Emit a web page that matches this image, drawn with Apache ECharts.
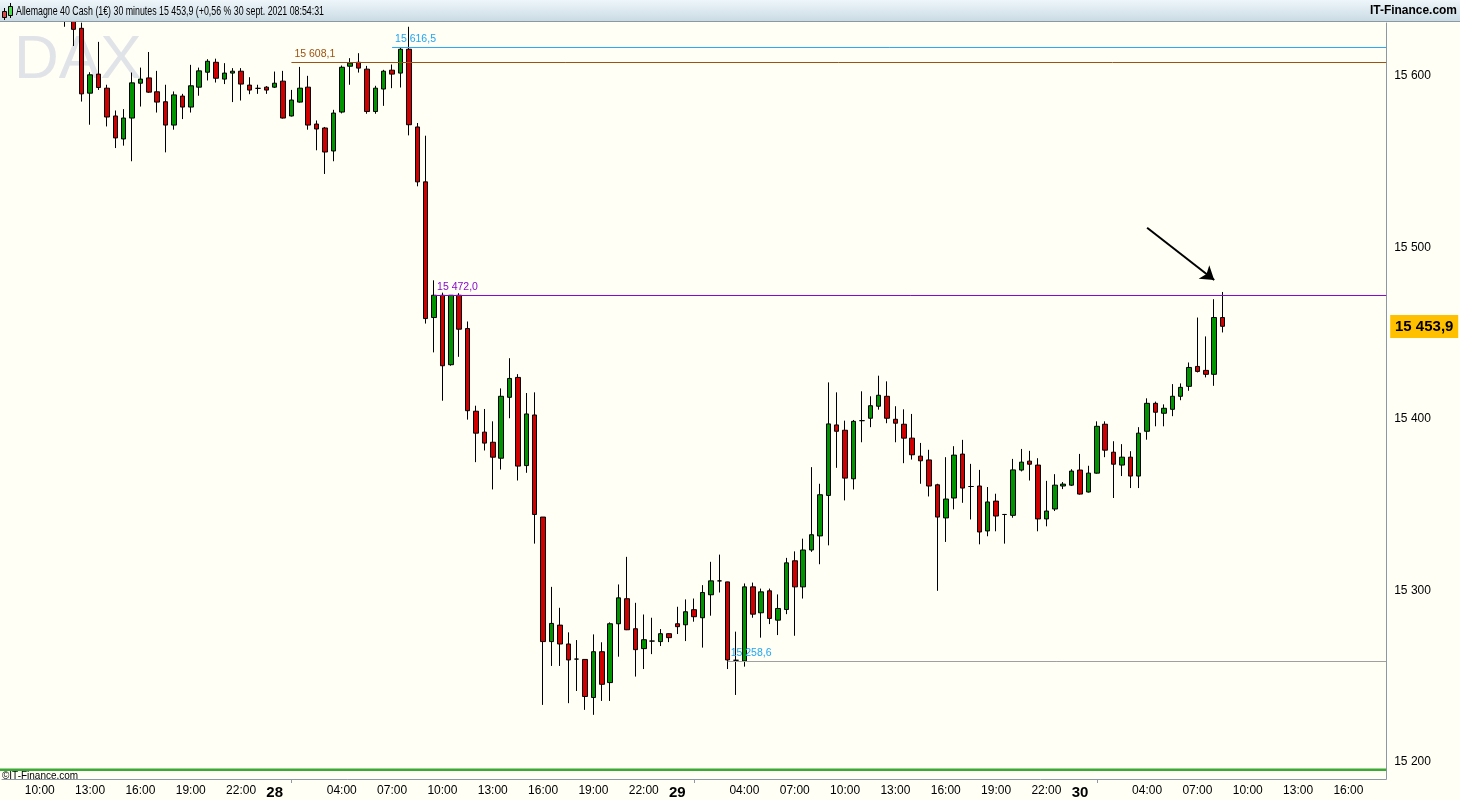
<!DOCTYPE html>
<html><head><meta charset="utf-8">
<script src="https://cdn.jsdelivr.net/npm/echarts@6/dist/echarts.min.js"></script>
<style>html,body{margin:0;padding:0;background:#FFFFF5;overflow:hidden}#c{width:1460px;height:800px}</style>
</head><body><div id="c"></div><script>
// ---- categories (30-minute slots) ----
const categories = [
'27 08:00','27 08:30','27 09:00','27 09:30','27 10:00','27 10:30','27 11:00','27 11:30','27 12:00','27 12:30','27 13:00','27 13:30','27 14:00','27 14:30','27 15:00','27 15:30','27 16:00','27 16:30','27 17:00','27 17:30','27 18:00','27 18:30','27 19:00','27 19:30','27 20:00','27 20:30','27 21:00','27 21:30','27 22:00','27 22:30','27 23:00','27 23:30',
'28 00:00','28 00:30','28 01:00','28 01:30','28 02:00','28 02:30','28 03:00','28 03:30','28 04:00','28 04:30','28 05:00','28 05:30','28 06:00','28 06:30','28 07:00','28 07:30','28 08:00','28 08:30','28 09:00','28 09:30','28 10:00','28 10:30','28 11:00','28 11:30','28 12:00','28 12:30','28 13:00','28 13:30','28 14:00','28 14:30','28 15:00','28 15:30','28 16:00','28 16:30','28 17:00','28 17:30','28 18:00','28 18:30','28 19:00','28 19:30','28 20:00','28 20:30','28 21:00','28 21:30','28 22:00','28 22:30','28 23:00','28 23:30',
'29 00:00','29 00:30','29 01:00','29 01:30','29 02:00','29 02:30','29 03:00','29 03:30','29 04:00','29 04:30','29 05:00','29 05:30','29 06:00','29 06:30','29 07:00','29 07:30','29 08:00','29 08:30','29 09:00','29 09:30','29 10:00','29 10:30','29 11:00','29 11:30','29 12:00','29 12:30','29 13:00','29 13:30','29 14:00','29 14:30','29 15:00','29 15:30','29 16:00','29 16:30','29 17:00','29 17:30','29 18:00','29 18:30','29 19:00','29 19:30','29 20:00','29 20:30','29 21:00','29 21:30','29 22:00','29 22:30','29 23:00','29 23:30',
'30 00:00','30 00:30','30 01:00','30 01:30','30 02:00','30 02:30','30 03:00','30 03:30','30 04:00','30 04:30','30 05:00','30 05:30','30 06:00','30 06:30','30 07:00','30 07:30','30 08:00','30 08:30','30 09:00','30 09:30','30 10:00','30 10:30','30 11:00','30 11:30','30 12:00','30 12:30','30 13:00','30 13:30','30 14:00','30 14:30','30 15:00','30 15:30','30 16:00','30 16:30','30 17:00','30 17:30','30 18:00'
];
const firstCandle = '27 11:30';

// ---- OHLC values (one per 30-min candle from firstCandle) ----
const opens = [
15640,15634,15627.6,15589.8,15600.9,15592.7,15576.5,15563.1,15575.3,15595.6,15598.7,15590.6,15584.8,15571.2,15588.1,15581.7,15593.3,15602.0,15607.8,15598.0,15601.5,15602.6,15594.5,15592.6,15593.3,
15593.3,15596.8,15576.5,15584.6,15593.3,15571.8,15569.5,15556.1,15578.8,15605.5,15607.8,15603.8,15579.1,15592.2,15603.2,15601.5,15615.4,15570.1,15538.1,15459.0,15472.0,15431.5,15472.0,15452.6,15404.4,15392.2,15386.3,15377.0,15412.5,15424.1,15372.7,15402.2,15342.7,15270.1,15279.7,15268.7,15259.9,15259.7,15237.5,15264.2,15246.2,15280.5,15295.1,15277.6,15266.0,15270.4,15270.1,15274.7,
15280.5,15279.9,15288.7,15284.0,15297.4,15305.5,15304.9,15259.2,15258.8,15302.0,15286.9,15299.7,15282.6,15288.8,15317.2,15302.0,15323.5,15331.7,15355.3,15396.4,15393.3,15365.0,15398.9,15400.3,15407.3,15413.1,15399.7,15396.8,15388.7,15378.2,15376.0,15361.5,15342.2,15353.8,15379.4,15360.5,15360.8,15334.6,15352.0,15344.2,15343.7,15370.1,15375.3,15373.0,15341.6,15347.4,15360.8,15361.3,
15370.1,15357.3,15368.3,15396.8,15380.5,15373.0,15377.6,15366.6,15392.7,15409.0,15403.2,15405.5,15413.1,15418.9,15430.5,15428.2,15425.9,15459.0
];
const closes = [
15634,15627.0,15589.4,15600.5,15593.1,15575.9,15563.7,15575.3,15595.8,15598.0,15590.4,15584.6,15571.2,15588.8,15581.7,15594.1,15602.8,15608.4,15598.5,15601.5,15602.6,15595.1,15591.6,15592.6,15591.6,
15595.6,15575.3,15585.8,15592.7,15571.2,15568.9,15555.5,15578.2,15604.9,15607.3,15604.4,15579.1,15592.7,15602.6,15600.9,15615.4,15571.4,15538.1,15458.4,15472.0,15430.9,15472.0,15452.2,15404.7,15391.6,15385.8,15377.6,15413.1,15423.5,15372.4,15402.8,15344.2,15270.1,15280.7,15268.7,15259.4,15259.9,15238.1,15264.2,15245.2,15280.5,15295.6,15277.0,15265.4,15271.2,15270.4,15274.7,15272.4,
15278.8,15287.5,15284.6,15298.7,15305.5,15305.5,15259.4,15259.2,15302.0,15286.1,15299.1,15283.6,15289.4,15316.0,15302.0,15323.5,15332.4,15355.7,15397.0,15392.7,15365.4,15398.5,15398.9,15407.6,15413.7,15400.3,15397.4,15388.7,15379.0,15375.5,15360.8,15342.7,15353.2,15378.8,15359.6,15360.5,15334.0,15351.5,15343.3,15344.2,15370.2,15374.7,15373.5,15341.6,15346.2,15361.3,15361.9,15369.5,
15356.1,15368.3,15395.6,15381.7,15373.5,15377.6,15366.6,15391.6,15409.0,15403.8,15406.1,15413.1,15418.3,15429.9,15427.6,15425.9,15459.0,15453.9
];
const lows = [
15628.5,15617.3,15584.9,15571.4,15591.7,15570.4,15557.8,15559.2,15550.1,15582.0,15590.0,15578.5,15555.3,15568.5,15574.7,15578.5,15588.3,15597.2,15596.0,15595.1,15584.6,15585.5,15589.2,15589.4,15589.4,
15592.8,15575.0,15576.2,15584.3,15568.5,15556.5,15542.7,15550.1,15578.0,15594.7,15601.8,15577.8,15577.8,15582.4,15592.7,15593.1,15565.2,15535.5,15455.5,15438.7,15410.5,15430.9,15436.1,15399.5,15374.7,15381.5,15358.8,15370.4,15400.3,15364.0,15368.5,15327.2,15233.2,15255.9,15255.9,15234.2,15241.3,15230.3,15227.4,15235.5,15235.5,15261.3,15276.8,15249.7,15254.1,15262.8,15267.5,15269.8,
15274.5,15270.4,15281.7,15266.6,15285.2,15298.7,15254.1,15239.0,15255.5,15284.0,15272.4,15280.3,15273.9,15286.1,15273.5,15295.2,15322.4,15315.2,15326.2,15371.4,15352.4,15358.8,15386.3,15395.1,15405.3,15397.4,15386.3,15374.1,15376.2,15362.1,15354.7,15299.7,15328.2,15347.2,15351.0,15341.3,15326.8,15331.5,15334.4,15327.2,15342.3,15369.3,15364.0,15334.4,15337.3,15346.2,15359.0,15360.8,
15355.8,15357.0,15368.0,15377.6,15353.8,15366.6,15359.6,15359.6,15387.8,15395.6,15395.6,15401.5,15410.8,15416.3,15427.0,15424.1,15419.2,15450.3
];
const highs = [
15646,15638,15630.9,15602.0,15619.7,15594.7,15579.7,15580.5,15601.8,15604.7,15613.8,15602.8,15594.7,15590.8,15589.4,15606.3,15604.7,15609.6,15609.9,15607.3,15604.4,15604.4,15599.1,15594.7,15593.9,
15602.4,15602.8,15591.7,15605.1,15599.9,15573.9,15570.1,15580.1,15605.9,15610.2,15613.1,15605.7,15594.1,15603.4,15606.5,15616.5,15628.5,15572.4,15565.0,15480.7,15473.5,15472.0,15473.2,15456.7,15407.6,15405.7,15398.5,15417.7,15435.3,15426.0,15415.0,15415.4,15342.7,15302.0,15289.8,15275.5,15271.0,15259.7,15274.3,15269.7,15281.3,15303.4,15319.5,15292.7,15285.9,15284.0,15277.4,15274.9,
15290.4,15294.7,15295.2,15303.0,15316.6,15320.8,15305.0,15275.9,15304.0,15304.5,15301.0,15301.0,15297.6,15318.9,15322.7,15330.1,15371.8,15362.1,15421.2,15415.4,15398.9,15399.3,15416.0,15413.1,15425.1,15421.8,15407.3,15405.5,15402.8,15385.9,15381.9,15362.1,15377.6,15384.0,15387.7,15373.7,15370.2,15360.2,15356.3,15344.5,15376.6,15382.4,15381.3,15377.0,15363.8,15367.7,15363.1,15370.6,
15379.5,15372.6,15398.5,15398.5,15386.9,15385.2,15381.1,15395.1,15411.9,15410.0,15408.4,15420.2,15420.6,15432.8,15459.0,15448.0,15469.7,15473.9
];

// ---- horizontal levels ----
const levelValues = [15616.5, 15608.1, 15472.0, 15258.6];
const levelStarts = ['28 07:00', '28 01:00', '28 09:30', '29 03:00'];
// ---- arrow annotation ----
const arrowFrom = ['30 04:00', 15511.3];
const arrowTo = ['30 08:00', 15480.9];
// ---- y-axis range / ticks ----
const yMin = 15190, yMax = 15630.7, yStep = 100;
const titleText = 'Allemagne 40 Cash (1€) 30 minutes 15 453,9 (+0,56 % 30 sept. 2021 08:54:31';
const brandText = 'IT-Finance.com';
const watermarkText = 'DAX';
const copyrightText = '©IT-Finance.com';

// ---- styles ----
const levelColors = ['#1EA6F5', '#9C5210', '#8A08D2', '#1EA6F5'];
const levelLineColors = ['#28AAF8', '#9C5210', '#8A08D2', '#A0A0A0'];
const UP = '#009400', DOWN = '#D00000';
const GRID_L = 2, GRID_T = 23, GRID_W = 1384.2, GRID_B_Y = 781;
const FONT = '"Liberation Sans", Arial, sans-serif';

function fmt(v, d) {
  const s = v.toFixed(d).split('.');
  const i = s[0].replace(/\B(?=(\d{3})+(?!\d))/g, ' ');
  return s.length > 1 ? i + ',' + s[1] : i;
}
const mctx = document.createElement('canvas').getContext('2d');
function textW(t, font) { mctx.font = font; return mctx.measureText(t).width; }

const off = categories.indexOf(firstCandle);
const ohlc = opens.map((o, i) => [categories[off + i], o, closes[i], lows[i], highs[i]]);
const lastClose = closes[closes.length - 1];
const plotRight = GRID_L + GRID_W;

const chart = echarts.init(document.getElementById('c'), null, { renderer: 'canvas' });

function showLabel(idx, val) {
  const t = val.split(' ')[1];
  const h = parseInt(t.slice(0, 2), 10), m = t.slice(3);
  if (m !== '00') return false;
  return h === 0 || (h % 3 === 1 && h !== 1);
}
function showTick(idx, val) { return val.split(' ')[1] === '01:00'; }

const arrowSeries = {
  type: 'line', name: 'arrow', data: [], color: '#000', silent: true,
  markLine: {
    silent: true, animation: false, symbol: ['none', 'arrow'], symbolSize: 13,
    lineStyle: { color: '#000', width: 2, type: 'solid', opacity: 1 },
    label: { show: false },
    data: [[{ coord: arrowFrom }, { coord: arrowTo }]]
  }
};

const titleFont = '13.5px ' + FONT;
const titleScale = 308 / textW(titleText, titleFont);
const brandFont = 'bold 13px ' + FONT;
const brandScale = 0.92;
const brandLeft = 1457 - textW(brandText, brandFont) * brandScale;

const baseGraphic = [
  { id: 'bar', type: 'rect', left: 0, top: 0, shape: { width: 1460, height: 22 }, z: 10,
    style: { fill: new echarts.graphic.LinearGradient(0, 0, 0, 1, [{ offset: 0, color: '#EEF6FA' }, { offset: 1, color: '#C9DAE3' }]) } },
  { id: 'barLine', type: 'rect', left: 0, top: 21, shape: { width: 1460, height: 1 }, z: 11, style: { fill: '#8C99A3' } },
  { id: 'i1', type: 'line', shape: { x1: 4.5, y1: 8, x2: 4.5, y2: 20 }, z: 11, style: { stroke: '#000', lineWidth: 1 } },
  { id: 'i2', type: 'rect', shape: { x: 2.5, y: 11.5, width: 4, height: 6 }, z: 12, style: { fill: '#E04848', stroke: '#000', lineWidth: 1 } },
  { id: 'i3', type: 'line', shape: { x1: 10.5, y1: 3, x2: 10.5, y2: 18 }, z: 11, style: { stroke: '#000', lineWidth: 1 } },
  { id: 'i4', type: 'rect', shape: { x: 8.5, y: 6.5, width: 4, height: 9 }, z: 12, style: { fill: '#48E048', stroke: '#000', lineWidth: 1 } },
  { id: 'title', type: 'text', x: 16, y: 4.5, z: 12, scaleX: titleScale,
    style: { text: titleText, fill: '#000', font: titleFont } },
  { id: 'brand', type: 'text', x: brandLeft, y: 4, z: 12, scaleX: brandScale,
    style: { text: brandText, fill: '#000', font: brandFont } },
  { id: 'wm', type: 'text', left: 14, top: 30, z: 0, silent: true,
    style: { text: watermarkText, fill: '#E0E3E7', font: '62px ' + FONT } },
  { id: 'green', type: 'rect', shape: { x: 0, y: 768.5, width: plotRight, height: 2.5 }, z: 5, style: { fill: '#3AAA35' } },
  { id: 'copy', type: 'text', x: 2, y: 771, z: 5, scaleX: 0.95,
    style: { text: copyrightText, fill: '#000', font: '10.5px ' + FONT } }
];

const option = {
  animation: false,
  backgroundColor: '#FFFFF5',
  grid: { left: GRID_L, top: GRID_T, width: GRID_W, bottom: 800 - GRID_B_Y, show: false },
  xAxis: {
    type: 'category', data: categories, boundaryGap: true,
    axisLine: { show: true, lineStyle: { color: '#8C99A3', width: 1 } },
    axisTick: { show: true, alignWithLabel: true, interval: showTick, length: 4,
                lineStyle: { color: '#8C99A3', width: 1 } },
    splitLine: { show: false },
    axisLabel: {
      interval: showLabel, margin: 6, color: '#000', fontSize: 12, fontFamily: FONT,
      formatter: function (val) {
        const p = val.split(' ');
        return p[1] === '00:00' ? '{d|' + p[0] + '}' : p[1];
      },
      rich: { d: { fontWeight: 'bold', fontSize: 15, color: '#000', fontFamily: FONT } }
    }
  },
  yAxis: {
    type: 'value', position: 'right', min: yMin, max: yMax, interval: 10, scale: true,
    axisLine: { show: true, lineStyle: { color: '#8C99A3', width: 1 } },
    axisTick: { show: false },
    splitLine: { show: false },
    axisLabel: {
      margin: 8, color: '#000', fontSize: 12, fontFamily: FONT,
      formatter: function (v) { return Math.abs(v % yStep) < 1e-6 ? fmt(v, 0) : ''; }
    }
  },
  series: [{
    type: 'candlestick', name: 'DAX', data: ohlc, encode: { x: 0, y: [1, 2, 3, 4] },
    barWidth: 5, clip: true, z: 3,
    itemStyle: { color: UP, color0: DOWN, borderColor: '#000', borderColor0: '#000', borderWidth: 1 }
  }, arrowSeries],
  graphic: baseGraphic
};
chart.setOption(option);

// level lines and last-price tag, positioned through the chart's own axes
const extra = [];
levelValues.forEach((v, i) => {
  const p = chart.convertToPixel({ xAxisIndex: 0, yAxisIndex: 0 }, [categories.indexOf(levelStarts[i]), v]);
  const y = Math.round(p[1]) + 0.5;
  extra.push({ id: 'lvl' + i, type: 'line', z: 4, silent: true,
    shape: { x1: p[0], y1: y, x2: plotRight, y2: y },
    style: { stroke: levelLineColors[i], lineWidth: 1 } });
  extra.push({ id: 'lvlTxt' + i, type: 'text', z: 4, silent: true, x: p[0] + 3, y: y - 3,
    style: { text: fmt(v, 1), fill: levelColors[i], font: '10.5px ' + FONT, verticalAlign: 'bottom' } });
});
const tagY = Math.round(chart.convertToPixel({ yAxisIndex: 0 }, lastClose));
extra.push({ id: 'tagBox', type: 'rect', shape: { x: plotRight + 4, y: tagY - 11, width: 68, height: 23 }, z: 20,
  style: { fill: '#FFC000' } });
extra.push({ id: 'tagText', type: 'text', x: plotRight + 4 + 34, y: tagY + 1, z: 21,
  style: { text: fmt(lastClose, 1), fill: '#000', font: 'bold 15px ' + FONT, align: 'center', verticalAlign: 'middle' } });
chart.setOption({ graphic: baseGraphic.concat(extra) });
</script></body></html>
